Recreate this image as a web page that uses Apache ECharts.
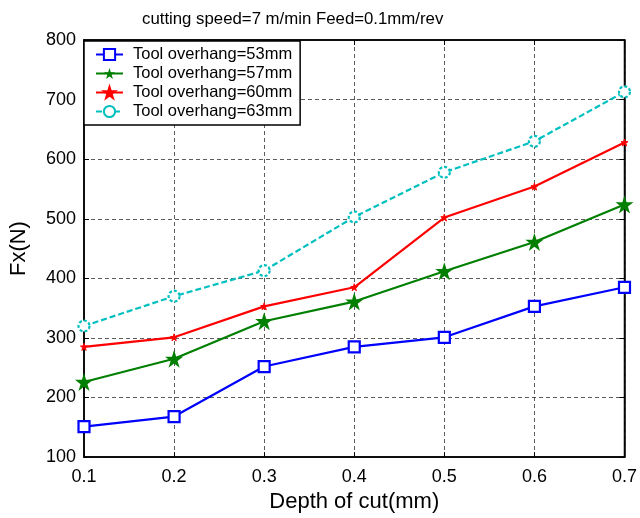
<!DOCTYPE html>
<html><head><meta charset="utf-8">
<script src="https://cdn.jsdelivr.net/npm/echarts@6/dist/echarts.min.js"></script>
<style>html,body{margin:0;padding:0;background:#fff}#c{width:640px;height:518px}</style>
</head><body><div id="c"></div>
<script>
const depths = ['0.1','0.2','0.3','0.4','0.5','0.6','0.7'];
const oh53 = [151, 168, 252, 285, 301, 353, 385];
const oh57 = [226, 265, 328, 361, 412, 461, 524];
const oh60 = [285, 301, 353, 385, 502, 554, 628];
const oh63 = [320, 370, 413, 503, 578, 630, 713];
const seriesNames = ['Tool overhang=53mm','Tool overhang=57mm','Tool overhang=60mm','Tool overhang=63mm'];

const FONT = 'Liberation Sans, Arial, Helvetica, sans-serif';
const star = 'path://M50,0 L61.8,36.2 L100,36.2 L69.1,58.8 L80.9,95.1 L50,72.4 L19.1,95.1 L30.9,58.8 L0,36.2 L38.2,36.2 Z';
const chart = echarts.init(document.getElementById('c'), null, {renderer:'canvas'});
const gridLine = {show:true, lineStyle:{color:'#333', type:[4,3], width:1, opacity:0.8}};
chart.setOption({
  animation:false,
  backgroundColor:'#fff',
  title:{text:'cutting speed=7 m/min Feed=0.1mm/rev', left:142, top:11, padding:0,
    textStyle:{fontFamily:FONT, fontSize:16.8, fontWeight:'normal', color:'#000'}},
  legend:{orient:'vertical', left:84, top:41, padding:[5,8,5,11],
    itemWidth:27, itemHeight:14, itemGap:2,
    backgroundColor:'#fff', borderColor:'#000', borderWidth:1.5, borderRadius:0,
    textStyle:{fontFamily:FONT, fontSize:16.5, color:'#000', padding:[0,0,0,5], lineHeight:17},
    data:seriesNames},
  grid:{left:82, right:12, top:40, bottom:58, show:true, borderColor:'#000', borderWidth:1.5},
  xAxis:[{type:'category', data:depths, boundaryGap:false,
    name:'Depth of cut(mm)', nameLocation:'middle', nameGap:32,
    nameTextStyle:{fontFamily:FONT, fontSize:22, color:'#000'},
    axisLine:{lineStyle:{color:'#000', width:1.5}},
    axisTick:{inside:true, length:5, lineStyle:{color:'#000'}},
    axisLabel:{fontFamily:FONT, fontSize:18, color:'#000', margin:11, showMaxLabel:true},
    splitLine:gridLine},
    {type:'category', data:depths, boundaryGap:false, position:'top',
    axisLine:{lineStyle:{color:'#000', width:1.5}},
    axisTick:{inside:true, length:5, lineStyle:{color:'#000'}},
    axisLabel:{show:false}, splitLine:{show:false}}],
  yAxis:[{type:'value', min:100, max:800, interval:100,
    name:'Fx(N)', nameLocation:'middle', nameGap:54, nameRotate:90,
    nameTextStyle:{fontFamily:FONT, fontSize:22, color:'#000'},
    axisLine:{show:true, lineStyle:{color:'#000', width:1.5}},
    axisTick:{show:true, inside:true, length:5, lineStyle:{color:'#000'}},
    axisLabel:{fontFamily:FONT, fontSize:18, color:'#000', margin:8},
    splitLine:gridLine},
    {type:'value', min:100, max:800, interval:100, position:'right',
    axisLine:{show:true, lineStyle:{color:'#000', width:1.5}},
    axisTick:{show:true, inside:true, length:5, lineStyle:{color:'#000'}},
    axisLabel:{show:false}, splitLine:{show:false}}],
  series:[
    {name:seriesNames[0], type:'line', data:oh53, symbol:'rect', symbolSize:11,
     lineStyle:{color:'#0000ff', width:2.2}, itemStyle:{color:'#fff', borderColor:'#0000ff', borderWidth:2.2}},
    {name:seriesNames[1], type:'line', data:oh57, symbol:star, symbolSize:18,
     lineStyle:{color:'#007f00', width:2.2}, itemStyle:{color:'#007f00', borderColor:'#007f00', borderWidth:0}},
    {name:seriesNames[2], type:'line', data:oh60, symbol:star, symbolSize:7,
     lineStyle:{color:'#ff0000', width:2.2}, itemStyle:{color:'#ff0000', borderColor:'#ff0000', borderWidth:1}},
    {name:seriesNames[3], type:'line', data:oh63, symbol:'circle', symbolSize:11,
     lineStyle:{color:'#00bfbf', width:2.2, type:[6,3]}, itemStyle:{color:'#fff', borderColor:'#00bfbf', borderWidth:2.2, borderType:[3,2]}}
  ]
});
</script></body></html>
